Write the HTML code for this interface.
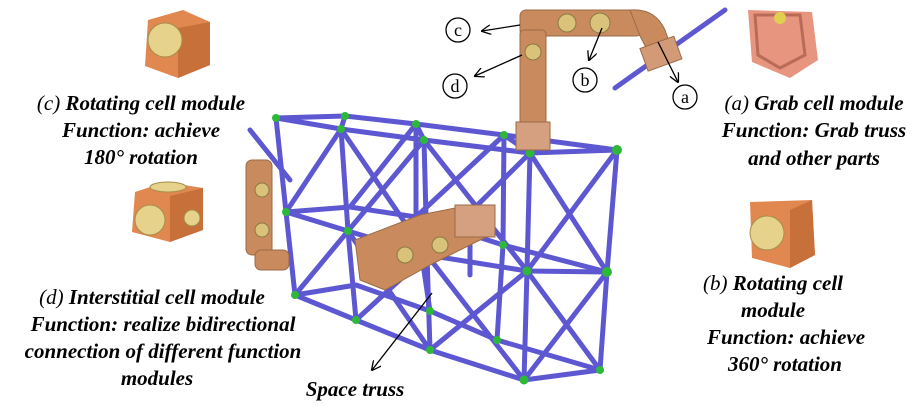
<!DOCTYPE html>
<html><head><meta charset="utf-8"><style>
body{margin:0;background:#fff;width:916px;height:405px;overflow:hidden}
svg text{font-family:"Liberation Serif",serif;font-size:21px;font-weight:bold;font-style:italic;fill:#000}
.n{font-weight:normal}
svg text.c{font-size:18px;font-style:normal;font-weight:normal}
</style></head><body>
<svg width="916" height="405" viewBox="0 0 916 405" xmlns="http://www.w3.org/2000/svg">
<defs>
<marker id="ar" markerWidth="10" markerHeight="10" refX="9" refY="5" orient="auto" markerUnits="userSpaceOnUse"><path d="M0,0 L10,5 L0,10" fill="none" stroke="#000" stroke-width="1.3"/></marker>
</defs>
<g stroke="#5d58d2" stroke-width="5" stroke-linecap="round" fill="none">
<path d="M276,118 L345,116 L416,124 L504,135 L617,150"/>
<path d="M276,118 L341,129 L424,140 L530,153 L617,150"/>
<path d="M345,116 L341,129 M416,124 L424,140 M504,135 L530,153"/>
<path d="M276,118 L286,212 L295,295"/>
<path d="M341,129 L348,231 L356,320"/>
<path d="M424,140 L427,255 L430,350"/>
<path d="M530,153 L527,271 L524,380"/>
<path d="M617,150 L607,272 L600,370"/>
<path d="M416,124 L416,217 L430,311"/>
<path d="M504,135 L503,245 L497,340"/>
<path d="M286,212 L348,231 L427,255 L527,271 L607,272"/>
<path d="M286,212 L350,207 L416,217 L503,245 L607,272"/>
<path d="M295,295 L356,320 L430,350 L524,380 L600,370"/>
<path d="M295,295 L356,285 L430,311 L497,340 L600,370"/>
<path d="M286,212 L341,129 M348,231 L424,140 M427,255 L530,153 M527,271 L617,150"/>
<path d="M295,295 L348,231 M356,320 L427,255 M430,350 L527,271 M524,380 L607,272"/>
<path d="M341,129 L427,255 M424,140 L527,271 M530,153 L607,272"/>
<path d="M348,231 L430,350 M427,255 L524,380 M527,271 L600,370"/>
<path d="M350,207 L416,124 M416,217 L504,135"/>
<path d="M250,130 L290,180 M615,88 L725,10 M470,240 L470,275"/>
</g>
<g fill="#2db83a">
<circle cx="276" cy="118" r="4"/><circle cx="345" cy="116" r="4"/><circle cx="341" cy="129" r="4"/><circle cx="416" cy="124" r="4"/><circle cx="424" cy="140" r="4"/><circle cx="504" cy="135" r="4"/><circle cx="530" cy="153" r="4.5"/><circle cx="617" cy="150" r="5"/>
<circle cx="286" cy="212" r="4"/><circle cx="348" cy="231" r="4"/><circle cx="427" cy="255" r="4"/><circle cx="527" cy="271" r="4.5"/><circle cx="607" cy="272" r="5"/><circle cx="503" cy="245" r="4"/>
<circle cx="295" cy="295" r="4"/><circle cx="356" cy="320" r="4"/><circle cx="430" cy="350" r="4"/><circle cx="524" cy="380" r="4.5"/><circle cx="600" cy="370" r="4"/><circle cx="497" cy="340" r="4"/><circle cx="430" cy="311" r="4"/>
</g>
<g fill="#c98a5e" stroke="#9c6a45" stroke-width="1">
<rect x="520" y="10" width="122" height="26" rx="6"/>
<rect x="520" y="30" width="26" height="100" rx="4"/>
<path d="M630,10 Q655,8 665,30 L672,50 L650,55 L640,36 Z"/>
<rect x="643" y="42" width="36" height="24" fill="#d29a76" transform="rotate(-20 660 54)"/>
<rect x="516" y="122" width="34" height="28" fill="#d4a080"/>
<rect x="246" y="160" width="26" height="95" rx="6"/>
<rect x="255" y="250" width="34" height="20" rx="6"/>
<path d="M355,240 L420,215 L470,205 L490,235 L430,265 L385,290 L360,280 Z"/>
<rect x="455" y="205" width="40" height="32" fill="#d4a080"/>
</g>
<g fill="#d9c27a" stroke="#8b7a40" stroke-width="1">
<circle cx="567" cy="23" r="9"/><circle cx="600" cy="23" r="10"/><circle cx="533" cy="52" r="8"/><circle cx="262" cy="190" r="7"/><circle cx="262" cy="230" r="7"/><circle cx="405" cy="255" r="8"/><circle cx="440" cy="245" r="8"/>
</g>
<g>
<path d="M148,20 L183,10 L210,22 L210,65 L178,78 L145,66 Z" fill="#e08850"/>
<path d="M178,28 L210,22 L210,65 L178,78 Z" fill="#c8703a"/>
<circle cx="165" cy="40" r="17" fill="#e6d28a" stroke="#a38f4a"/>
<path d="M135,192 L165,182 L203,188 L203,230 L170,242 L132,232 Z" fill="#e08850"/>
<path d="M170,196 L203,188 L203,230 L170,242 Z" fill="#c8703a"/>
<ellipse cx="168" cy="187" rx="18" ry="5" fill="#e6d28a" stroke="#a38f4a"/>
<circle cx="150" cy="220" r="15" fill="#e6d28a" stroke="#a38f4a"/>
<circle cx="192" cy="218" r="8" fill="#e6d28a" stroke="#a38f4a"/>
<path d="M748,10 L812,12 L818,60 L790,78 L752,62 Z" fill="#e7957e"/>
<path d="M755,15 L800,15 L805,55 L780,68 L758,55 Z" fill="none" stroke="#b86c58" stroke-width="3"/>
<circle cx="780" cy="18" r="6" fill="#e0d050"/>
<path d="M750,202 L812,200 L815,255 L790,268 L752,258 Z" fill="#e08850"/>
<path d="M790,210 L812,200 L815,255 L790,268 Z" fill="#c8703a"/>
<circle cx="767" cy="233" r="17" fill="#e6d28a" stroke="#a38f4a"/>
</g>
<g stroke="#000" stroke-width="1.3" fill="none">
<line x1="520" y1="25" x2="482" y2="31" marker-end="url(#ar)"/>
<line x1="522" y1="55" x2="475" y2="76" marker-end="url(#ar)"/>
<line x1="602" y1="28" x2="589" y2="60" marker-end="url(#ar)"/>
<line x1="658" y1="42" x2="678" y2="82" marker-end="url(#ar)"/>
<line x1="432" y1="293" x2="372" y2="370" marker-end="url(#ar)"/>
<circle cx="458" cy="30" r="12" fill="#fff"/>
<circle cx="455" cy="86" r="12" fill="#fff"/>
<circle cx="585" cy="80" r="12" fill="#fff"/>
<circle cx="685" cy="97" r="12" fill="#fff"/>
</g>
<text class="c" x="458" y="36" text-anchor="middle">c</text>
<text class="c" x="455" y="92" text-anchor="middle">d</text>
<text class="c" x="585" y="86" text-anchor="middle">b</text>
<text class="c" x="685" y="103" text-anchor="middle">a</text>
<text x="141" y="110" text-anchor="middle"><tspan class="n">(c)</tspan> Rotating cell module</text>
<text x="141" y="137" text-anchor="middle">Function: achieve</text>
<text x="141" y="164" text-anchor="middle">180° rotation</text>
<text x="814" y="110" text-anchor="middle"><tspan class="n">(a)</tspan> Grab cell module</text>
<text x="814" y="137" text-anchor="middle">Function: Grab truss</text>
<text x="814" y="165" text-anchor="middle">and other parts</text>
<text x="773" y="290" text-anchor="middle"><tspan class="n">(b)</tspan> Rotating cell</text>
<text x="773" y="317" text-anchor="middle">module</text>
<text x="786" y="344" text-anchor="middle">Function: achieve</text>
<text x="785" y="371" text-anchor="middle">360° rotation</text>
<text x="152" y="304" text-anchor="middle"><tspan class="n">(d)</tspan> Interstitial cell module</text>
<text x="163" y="331" text-anchor="middle">Function: realize bidirectional</text>
<text x="163" y="358" text-anchor="middle">connection of different function</text>
<text x="157" y="385" text-anchor="middle">modules</text>
<text x="355" y="396" text-anchor="middle">Space truss</text>
</svg>
</body></html>
